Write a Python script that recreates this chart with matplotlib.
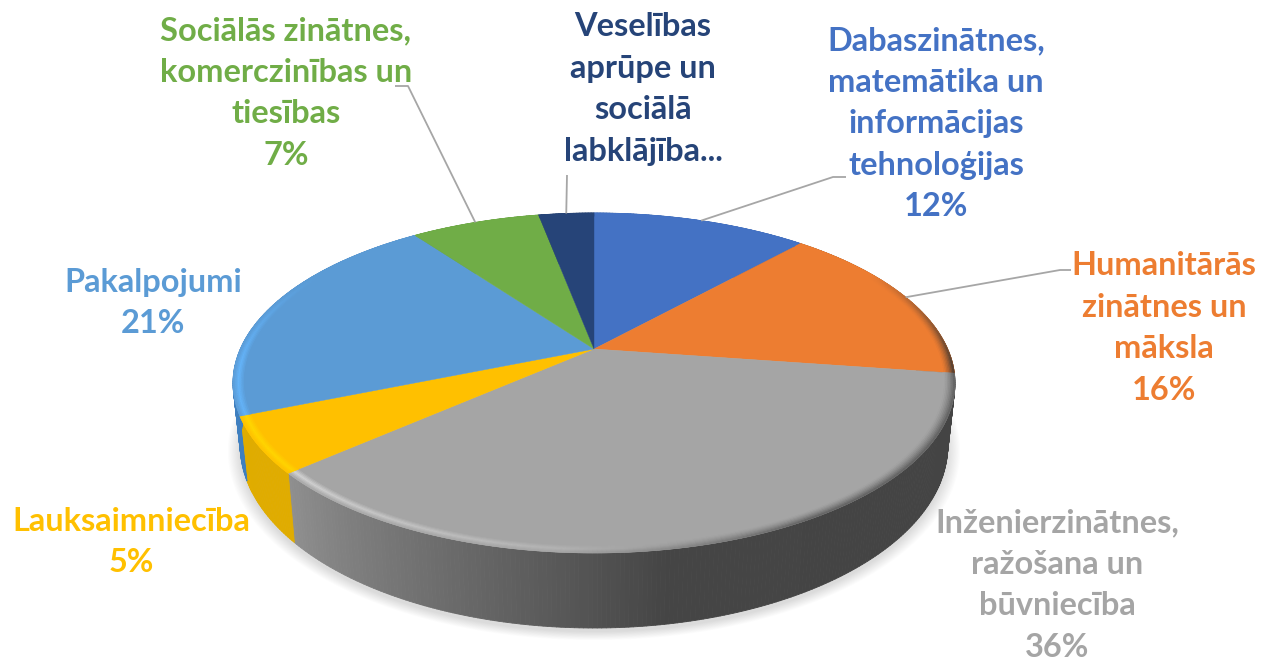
import numpy as np
import matplotlib
matplotlib.use('Agg')
import matplotlib.pyplot as plt
from matplotlib.collections import PolyCollection
from matplotlib.colors import to_rgb

# data, clockwise from the top. shares, labels show them rounded
categories = ['Dabaszinātnes,\nmatemātika un\ninformācijas\ntehnoloģijas',
              'Humanitārās\nzinātnes un\nmāksla',
              'Inženierzinātnes,\nražošana un\nbūvniecība',
              'Lauksaimniecība',
              'Pakalpojumi',
              'Sociālās zinātnes,\nkomerczinības un\ntiesības',
              'Veselības\naprūpe un\nsociālā\nlabklājība...']
values = [11.7, 15.6, 36.2, 5.3, 21.2, 7.0, 3.0]
colors = ['#4472C4', '#ED7D31', '#A5A5A5', '#FFC000', '#5B9BD5', '#70AD47', '#264478']
side_colors = ['#3A62A8', '#8A4A1E', '#555555', '#E0AC00', '#3F7FBF', '#5F933C', '#203A66']
bevel_colors = ['#4472C4', '#ED7D31', '#E6E6E6', '#FFDC00', '#66B8FF', '#70AD47', '#264478']
show_value = [True, True, True, True, True, True, False]

# layout
label_pos = [(936, 124), (1164, 328), (1057, 585), (131, 542), (153, 303), (286, 93), (643, 89)]
leaders = [[(833, 177), (846, 177)], [(1060, 270), (1071, 270)], None, None, None,
           [(408, 86), (395, 86)], [(567, 175)]]
apex = (594, 349)
a, b, k = 353.7, 163.2, 0.2
depth = 60
font_size = 23.4

plt.rcParams['font.family'] = ['Lato', 'DejaVu Sans']


def project(frac, r=1.0, low=False):
    # perspective view of the disc, frac is the share of the circle from the top
    t = 2 * np.pi * np.asarray(frac)
    u = r * np.sin(t)
    v = -r * np.cos(t)
    w = 1 - k * v
    x = a * u / w
    y = b * v / w
    if low:
        x = x * 0.98
        y = y + depth / w
    return apex[0] + x, apex[1] + y


def blend(c1, c2, m):
    c1, c2 = np.array(to_rgb(c1)), np.array(to_rgb(c2))
    return tuple(c1 + (c2 - c1) * m)


fig = plt.figure(figsize=(12.63, 6.62), dpi=100)
ax = fig.add_axes([0, 0, 1, 1])
ax.set_xlim(0, 1263)
ax.set_ylim(662, 0)
ax.axis('off')

edges = np.cumsum([0] + values) / sum(values)
all_f = np.linspace(0, 1, 361)

# soft shadow under the pie
lx, ly = project(all_f, low=True)
for grow in np.linspace(1.035, 1.0, 12):
    ax.fill(apex[0] + (lx - apex[0]) * grow, 395 + (ly - 395) * grow + 4, color='#000000', alpha=0.012, lw=0)

# side wall, one narrow strip per step
for i in range(len(values)):
    f = np.linspace(edges[i], edges[i + 1], int(values[i] * 6) + 2)
    x1, y1 = project(f)
    x2, y2 = project(f, low=True)
    polys = []
    cols = []
    for j in range(len(f) - 1):
        polys.append([(x1[j], y1[j]), (x1[j + 1], y1[j + 1]), (x2[j + 1], y2[j + 1]), (x2[j], y2[j])])
        if i == 2:
            g = np.interp(f[j] * 360, [100, 170, 185, 230], [0.265, 0.27, 0.35, 0.57])
            cols.append((g, g, g))
        else:
            cols.append(side_colors[i])
    ax.add_collection(PolyCollection(polys, facecolors=cols, edgecolors=cols, linewidths=0.6))

# top faces
for i in range(len(values)):
    f = np.linspace(edges[i], edges[i + 1], int(values[i] * 6) + 2)
    x, y = project(f)
    ax.fill(np.r_[apex[0], x], np.r_[apex[1], y], color=colors[i], lw=0.3)

# bevel along the outer edge: light on the left, dark on the right
rings = np.linspace(0.968, 1.0, 9)
for i in range(len(values)):
    f = np.linspace(edges[i], edges[i + 1], int(values[i] * 6) + 2)
    polys = []
    cols = []
    for n in range(len(rings) - 1):
        x1, y1 = project(f, rings[n])
        x2, y2 = project(f, rings[n + 1])
        pos = n / (len(rings) - 2)
        for j in range(len(f) - 1):
            deg = (f[j] + f[j + 1]) * 180
            light = np.interp(deg, [165, 230, 265, 300], [0.0, 0.75, 0.9, 0.0])
            dark = np.interp(deg, [60, 95, 150, 185], [0.0, 0.8, 0.8, 0.0])
            bell = np.clip(1 - abs(pos - 0.55) / 0.55, 0, 1)
            c = blend(colors[i], bevel_colors[i], light * bell)
            c = blend(c, side_colors[i] if i == 2 else '#333333', dark * pos ** 1.5)
            polys.append([(x1[j], y1[j]), (x1[j + 1], y1[j + 1]), (x2[j + 1], y2[j + 1]), (x2[j], y2[j])])
            cols.append(c)
    ax.add_collection(PolyCollection(polys, facecolors=cols, edgecolors=cols, linewidths=0.4))

# leader lines start at the middle of the slice
for i in range(len(values)):
    if leaders[i] is None:
        continue
    mid = (edges[i] + edges[i + 1]) / 2
    sx, sy = project(mid)
    px = [float(sx)] + [p[0] for p in leaders[i]]
    py = [float(sy)] + [p[1] for p in leaders[i]]
    ax.plot(px, py, color='#A6A6A6', lw=1.3, solid_capstyle='butt')

# labels
for i in range(len(values)):
    txt = categories[i]
    if show_value[i]:
        txt = txt + '\n' + str(round(values[i])) + '%'
    ax.text(label_pos[i][0], label_pos[i][1], txt, color=colors[i], ha='center', va='center',
            fontsize=font_size, fontweight='bold', linespacing=1.52, multialignment='center')

fig.savefig('out.png', dpi=100)
